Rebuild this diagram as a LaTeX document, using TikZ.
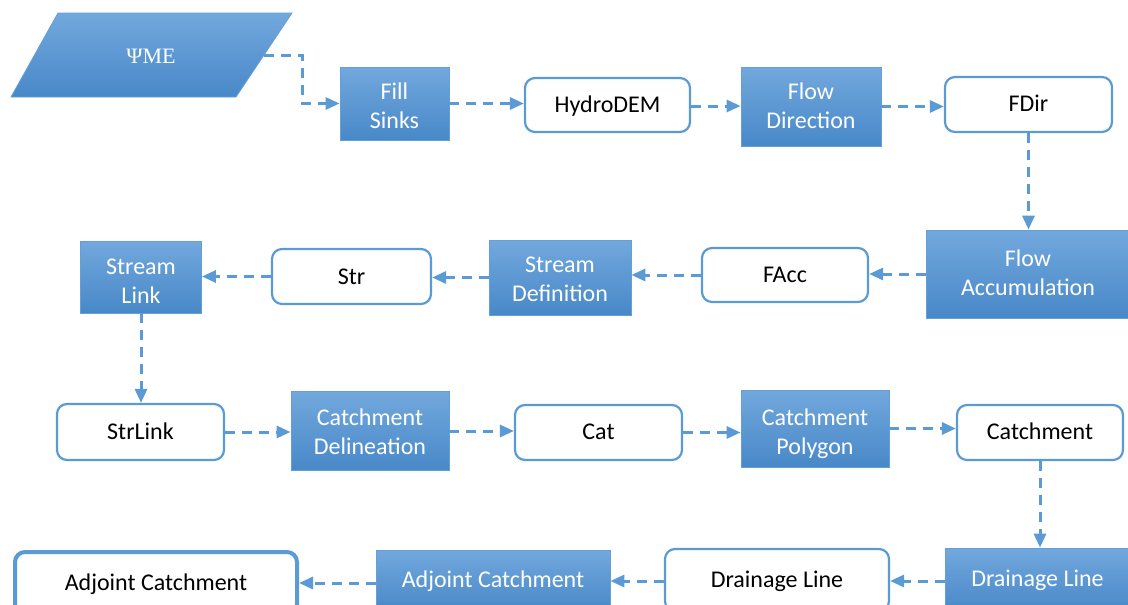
\documentclass[tikz,border=0pt]{standalone}
\usepackage{fontspec}
\setmainfont{Carlito}
\newfontfamily\psifont{Liberation Serif}
\usetikzlibrary{arrows.meta}
\definecolor{lineblue}{RGB}{91,155,213}
\definecolor{boxtop}{RGB}{114,168,221}
\definecolor{boxbot}{RGB}{72,136,200}
\definecolor{boxedge}{RGB}{100,160,215}
\newcommand{\lowtxt}[2]{\raisebox{-#1}[\height][\depth]{\begin{tabular}{@{}c@{}}#2\end{tabular}}}
\tikzset{
  bluebox/.style={draw=boxedge, line width=0.8pt, top color=boxtop, bottom color=boxbot,
    text=white, align=center, inner sep=0pt, font=\fontsize{24}{29}\selectfont},
  whitebox/.style={draw=lineblue, line width=2.2pt, fill=white, rounded corners=10pt,
    text=black, align=center, inner sep=0pt, font=\fontsize{24}{29}\selectfont},
  arr/.style={draw=lineblue, line width=3pt, dash pattern=on 10pt off 7pt,
    -{Triangle[length=14pt,width=12pt]}}
}
\begin{document}
\begin{tikzpicture}[x=1pt,y=-1pt]
\useasboundingbox (0,0) rectangle (1128,605);
\clip (0,0) rectangle (1128,605);
% input parallelogram
\shade[top color=boxtop, bottom color=boxbot, draw=boxedge, line width=0.8pt]
  (58,13) -- (292,13) -- (236,97) -- (11,97) -- cycle;
\node[text=white, font=\psifont\fontsize{22}{26}\selectfont] (psi) at (151,56) {ΨME};
\coordinate (psiR) at (264,55);
% row 1
\node[bluebox, minimum width=109pt, minimum height=73pt] (fs) at (394.5,103.5) {\lowtxt{5pt}{Fill\\Sinks}};
\node[whitebox, minimum width=165pt, minimum height=54pt] (hd) at (607.5,105) {\lowtxt{2pt}{HydroDEM}};
\node[bluebox, minimum width=140pt, minimum height=79pt] (fd) at (811,106.5) {\lowtxt{1.5pt}{Flow\\Direction}};
\node[whitebox, minimum width=167pt, minimum height=55pt] (fdir) at (1028.5,104.5) {\lowtxt{1.5pt}{FDir}};
% row 2
\node[bluebox, minimum width=204pt, minimum height=88pt] (fa) at (1028,274) {\lowtxt{1.5pt}{Flow\\Accumulation}};
\node[whitebox, minimum width=166pt, minimum height=54pt] (facc) at (785,275) {\lowtxt{1.5pt}{FAcc}};
\node[bluebox, minimum width=142pt, minimum height=75pt] (sd) at (560,277.5) {\lowtxt{4pt}{Stream\\Definition}};
\node[whitebox, minimum width=159pt, minimum height=55pt] (str) at (351.5,276.5) {\lowtxt{2pt}{Str}};
\node[bluebox, minimum width=121pt, minimum height=72pt] (sl) at (141,277) {\lowtxt{6pt}{Stream\\Link}};
% row 3
\node[whitebox, minimum width=167pt, minimum height=56pt] (stl) at (140.5,432) {\lowtxt{1.5pt}{StrLink}};
\node[bluebox, minimum width=158pt, minimum height=79pt] (cd) at (370,431) {\lowtxt{3pt}{Catchment\\Delineation}};
\node[whitebox, minimum width=167pt, minimum height=55pt] (cat) at (598.5,432.5) {\lowtxt{1pt}{Cat}};
\node[bluebox, minimum width=148pt, minimum height=77pt] (cp) at (815,428.5) {\lowtxt{6pt}{Catchment\\Polygon}};
\node[whitebox, minimum width=166pt, minimum height=55pt] (catch) at (1040,432.5) {\lowtxt{1pt}{Catchment}};
% row 4
\node[bluebox, minimum width=185pt, minimum height=64pt] (dlb) at (1037.5,580) {\lowtxt{0.5pt}{Drainage Line}};
\node[whitebox, minimum width=224pt, minimum height=62pt] (dlw) at (777,580) {\lowtxt{1.5pt}{Drainage Line}};
\node[bluebox, minimum width=234pt, minimum height=62pt] (adb) at (493,581) {\lowtxt{1pt}{Adjoint Catchment}};
\node[whitebox, line width=4pt, minimum width=282pt, minimum height=62pt] (adw) at (156,583) {\lowtxt{2pt}{Adjoint Catchment}};
% connectors
\draw[arr] (psiR) -- ++(38,0) |- (fs.west);
\draw[arr] (fs.east) -- (fs.east -| hd.west);
\draw[arr] ([yshift=-1pt]hd.east) -- ([yshift=-1pt]hd.east -| fd.west);
\draw[arr] (fd.east) -- (fd.east -| fdir.west);
\draw[arr] (fdir.south) -- (fdir.south |- fa.north);
\draw[arr] (fa.west) -- (fa.west -| facc.east);
\draw[arr] (facc.west) -- (facc.west -| sd.east);
\draw[arr] (sd.west) -- (sd.west -| str.east);
\draw[arr] (str.west) -- (str.west -| sl.east);
\draw[arr] (sl.south) -- (sl.south |- stl.north);
\draw[arr] (stl.east) -- (stl.east -| cd.west);
\draw[arr] (cd.east) -- (cd.east -| cat.west);
\draw[arr] (cat.east) -- (cat.east -| cp.west);
\draw[arr] (cp.east) -- (cp.east -| catch.west);
\draw[arr] (catch.south) -- (catch.south |- dlb.north);
\draw[arr] ([yshift=-1pt]dlb.west) -- ([yshift=-1pt]dlb.west -| dlw.east);
\draw[arr] ([yshift=-1pt]dlw.west) -- ([yshift=-1pt]dlw.west -| adb.east);
\draw[arr] ([yshift=-2pt]adb.west) -- ([yshift=-2pt]adb.west -| adw.east);
\end{tikzpicture}
\end{document}
